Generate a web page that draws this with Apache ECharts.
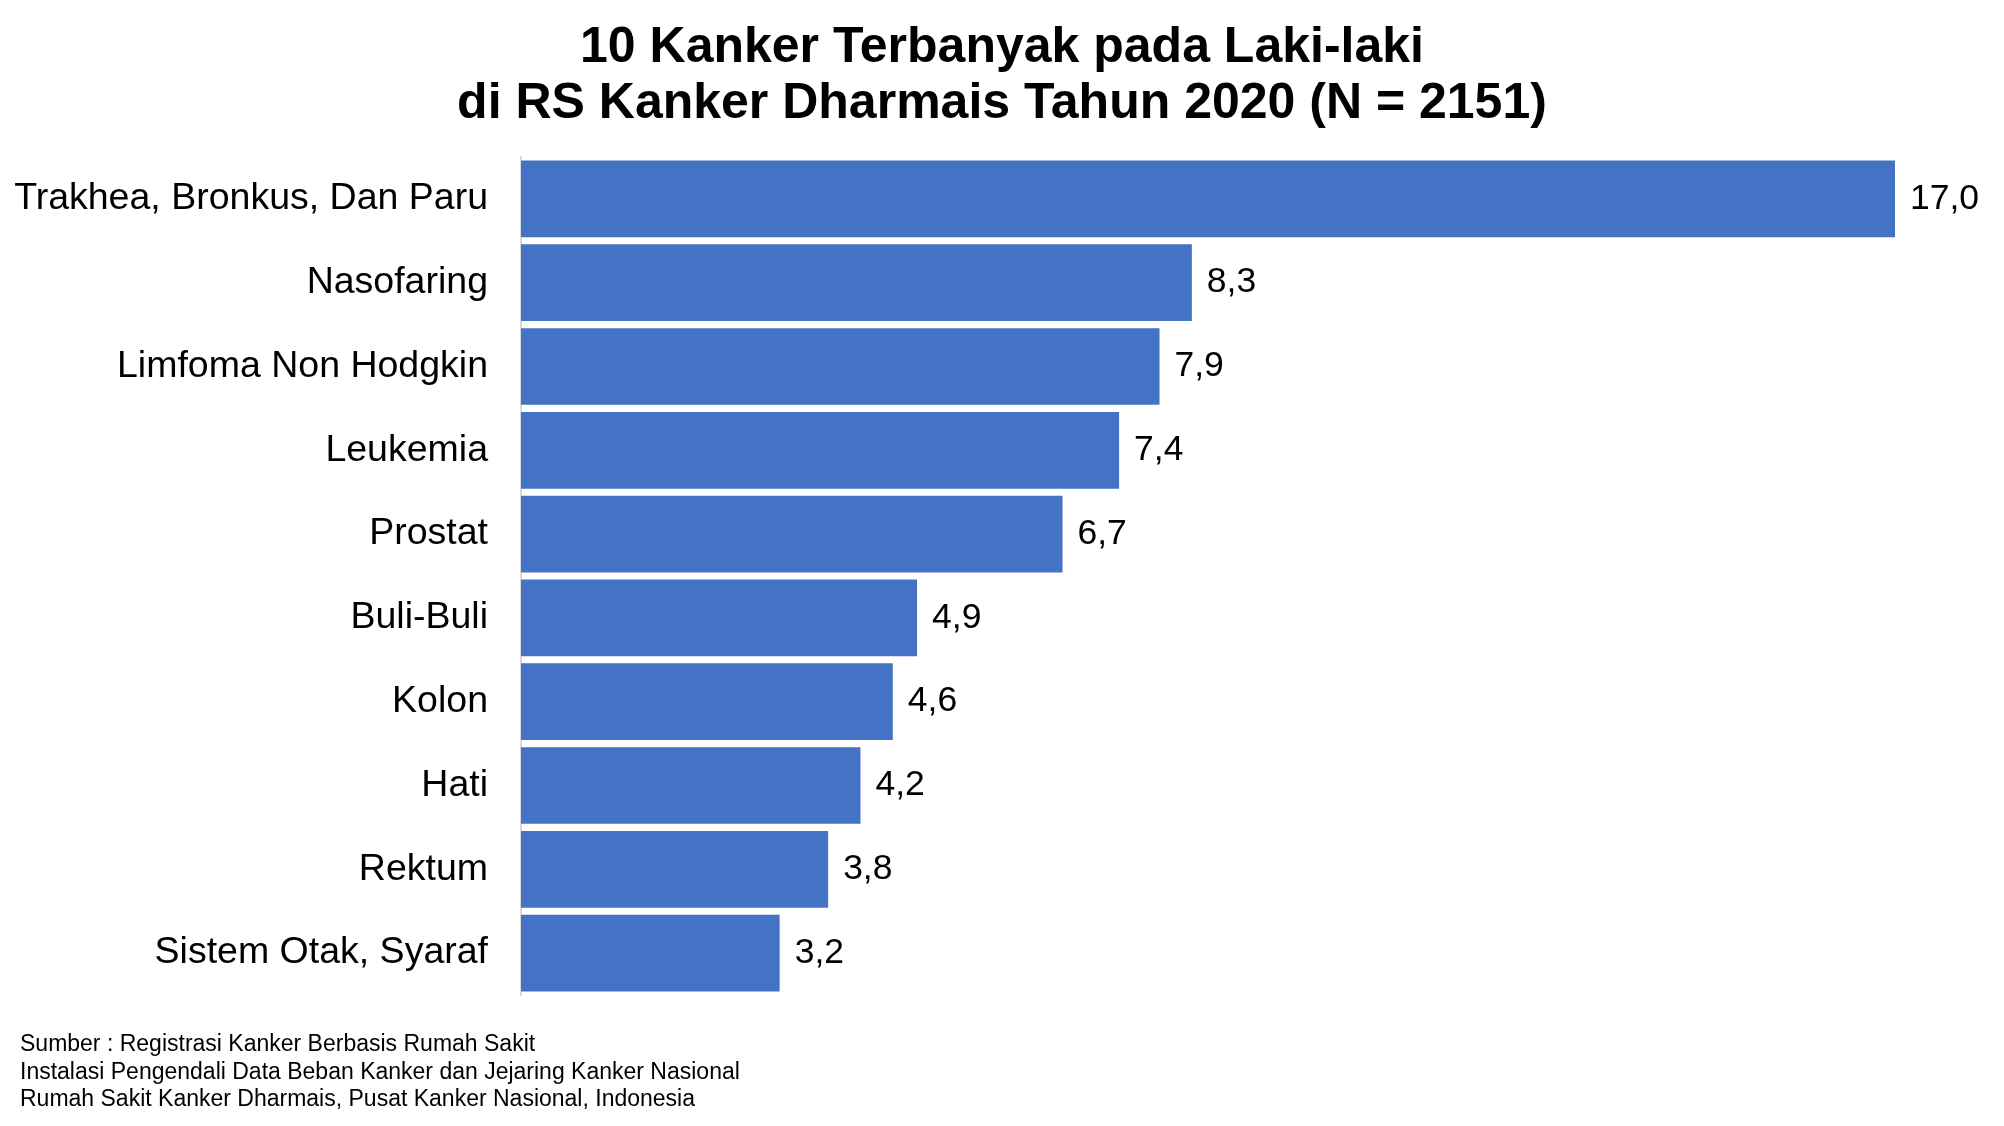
<!DOCTYPE html>
<html>
<head>
<meta charset="utf-8">
<script src="https://cdn.jsdelivr.net/npm/echarts@6/dist/echarts.min.js"></script>
<style>
html,body{margin:0;padding:0;background:#fff;}
#chart{width:2004px;height:1126px;}
</style>
</head>
<body>
<div id="chart"></div>
<script>
const titleLines = ['10 Kanker Terbanyak pada Laki-laki', 'di RS Kanker Dharmais Tahun 2020 (N = 2151)'];
const categories = ['Trakhea, Bronkus, Dan Paru', 'Nasofaring', 'Limfoma Non Hodgkin', 'Leukemia', 'Prostat', 'Buli-Buli', 'Kolon', 'Hati', 'Rektum', 'Sistem Otak, Syaraf'];
const values = [17.0, 8.3, 7.9, 7.4, 6.7, 4.9, 4.6, 4.2, 3.8, 3.2];
const sourceLines = ['Sumber : Registrasi Kanker Berbasis Rumah Sakit', 'Instalasi Pengendali Data Beban Kanker dan Jejaring Kanker Nasional', 'Rumah Sakit Kanker Dharmais, Pusat Kanker Nasional, Indonesia'];

const FONT = '"Liberation Sans", Arial, sans-serif';
const chart = echarts.init(document.getElementById('chart'), null, {renderer: 'canvas'});
chart.setOption({
  backgroundColor: '#ffffff',
  animation: false,
  title: {
    text: titleLines.join('\n'),
    left: 'center',
    top: 15,
    textStyle: {fontFamily: FONT, fontSize: 50, fontWeight: 'bold', color: '#000', lineHeight: 56}
  },
  grid: {left: 521, right: 109, top: 157, bottom: 131, containLabel: false},
  xAxis: {
    type: 'value', min: 0, max: 17, show: false
  },
  yAxis: {
    type: 'category', data: categories, inverse: true,
    axisLine: {show: true, lineStyle: {color: '#d9d9d9', width: 2}},
    axisTick: {show: false},
    splitLine: {show: false},
    axisLabel: {fontFamily: FONT, fontSize: 37.5, color: '#000', margin: 33}
  },
  series: [{
    type: 'bar', data: values, barCategoryGap: '8.5%',
    itemStyle: {color: '#4472C4'},
    label: {
      show: true, position: 'right', distance: 15,
      fontFamily: FONT, fontSize: 35.5, color: '#000',
      formatter: p => p.value.toFixed(1).replace('.', ',')
    }
  }],
  graphic: [{
    type: 'text', left: 20, top: 1031,
    style: {text: sourceLines.join('\n'), font: '23px ' + FONT, fill: '#000', lineHeight: 27.5}
  }]
});
</script>
</body>
</html>
